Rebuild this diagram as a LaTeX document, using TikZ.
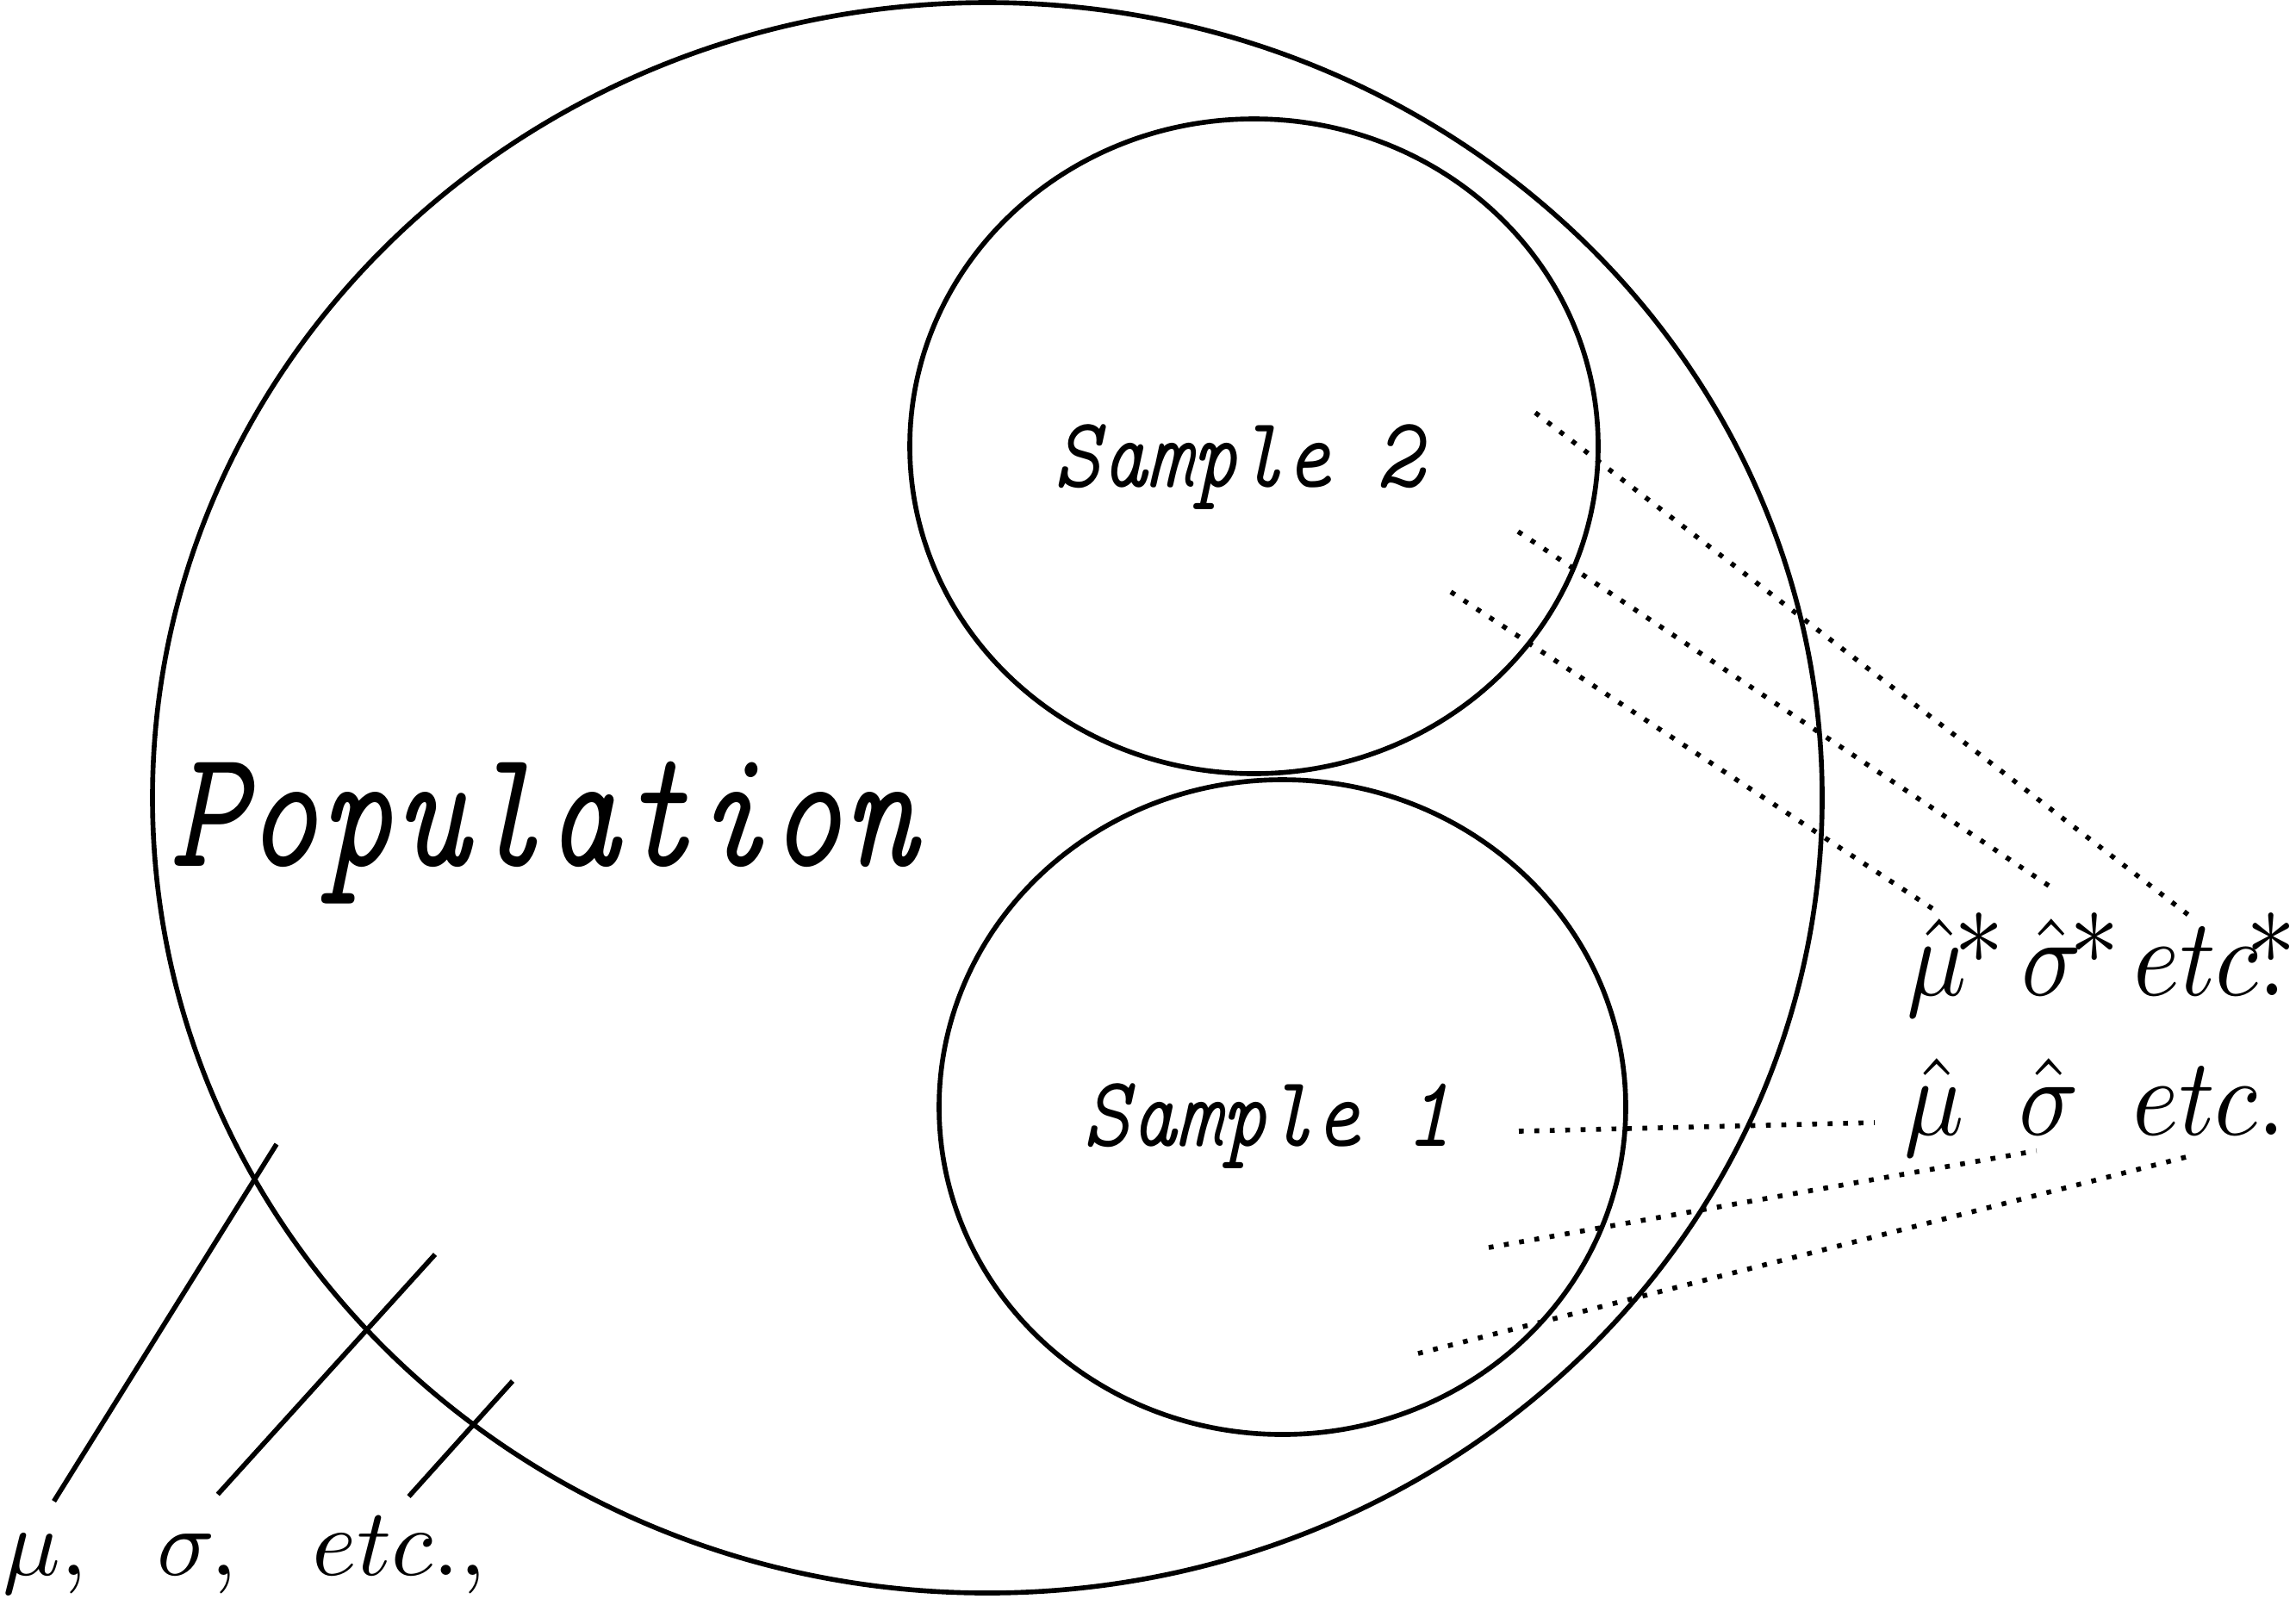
\RequirePackage{fix-cm}
\documentclass[tikz,border=0pt]{standalone}
\usepackage{amsmath}
\usepackage{graphicx}
\usetikzlibrary{shapes.geometric}
\DeclareFontShape{OML}{cmm}{m}{it}{<->cmmi10}{\skewchar\font'177}
\DeclareFontShape{OMS}{cmsy}{m}{n}{<->cmsy10}{\skewchar\font'60}
\DeclareFontShape{OT1}{cmr}{m}{n}{<->cmr10}{}
\DeclareFontShape{OT1}{cmtt}{m}{it}{<->cmitt10}{\hyphenchar\font=-1}
\newcommand{\squeeze}[2]{\scalebox{#1}[1]{#2}}
\newcommand{\ttit}{\fontencoding{OT1}\fontfamily{cmtt}\fontshape{it}\selectfont}
\newcommand{\starmark}{{\fontencoding{OT1}\fontfamily{cmr}\fontshape{n}\selectfont *}}

\begin{document}
\begin{tikzpicture}[
    ring/.style={draw=black, ellipse, line width=1.6pt, inner sep=0pt},
    parline/.style={black, line width=1.6pt},
    estline/.style={black, line width=1.6pt, dash pattern=on 1.6pt off 3.5pt},
    bigtxt/.style={anchor=base west, font=\fontsize{56}{60}\ttit},
    smptxt/.style={anchor=base west, font=\fontsize{33.3}{38}\ttit},
    partxt/.style={anchor=base west, font=\fontsize{31.6}{36}\selectfont},
    esttxt/.style={anchor=base west, font=\fontsize{36.4}{42}\selectfont}]
    \tikzstyle{every node}+=[inner sep=0pt]
    \useasboundingbox (0,0) rectangle (26.65,-18.55);
    \node [ring, minimum width=19.38cm, minimum height=18.46cm] (pop) at (11.46,-9.26) {};
    \node [ring, minimum width=7.99cm, minimum height=7.6cm] (smp2) at (14.555,-5.18) {};
    \node [ring, minimum width=7.97cm, minimum height=7.6cm] (smp1) at (14.885,-12.85) {};
    \node [bigtxt] (poptxt) at (1.97,-10.05) {\squeeze{0.84}{Population}};
    \node [smptxt] (smp2txt) at (12.23,-5.65) {\squeeze{0.87}{Sample 2}};
    \node [smptxt] (smp1txt) at (12.57,-13.30) {\squeeze{0.87}{Sample 1}};
    \node [partxt] (mu) at (0.03,-18.28) {$\mu,$};
    \node [partxt] (sig) at (1.82,-18.28) {$\sigma,$};
    \node [partxt] (etcp) at (3.62,-18.28) {$etc.,$};
    \node [esttxt] (muh) at (22.10,-13.17) {\squeeze{0.9}{$\hat{\mu}$}};
    \node [esttxt] (sigh) at (23.43,-13.17) {\squeeze{0.9}{$\hat{\sigma}$}};
    \node [esttxt] (etch) at (24.75,-13.17) {\squeeze{0.9}{$etc.$}};
    \node [esttxt] (muhs) at (22.13,-11.55) {\squeeze{0.9}{$\hat{\mu}$\kern-.13em\starmark}};
    \node [esttxt] (sighs) at (23.46,-11.55) {\squeeze{0.9}{$\hat{\sigma}$\kern-.12em\starmark}};
    \node [esttxt] (etchs) at (24.76,-11.55) {\squeeze{0.9}{$etc$\rlap{\kern-.12em\starmark}$.$}};
    \coordinate (m1) at (3.21,-13.28);
    \coordinate (s1) at (5.05,-14.56);
    \coordinate (t1) at (5.95,-16.03);
    \coordinate (a1) at (17.82,-4.79);
    \coordinate (a2) at (17.62,-6.17);
    \coordinate (a3) at (16.84,-6.87);
    \coordinate (b1) at (17.63,-13.13);
    \coordinate (b2) at (17.28,-14.48);
    \coordinate (b3) at (16.46,-15.71);
    \draw [parline] ([shift={(0.10,0.37)}]mu.north) -- (m1);
    \draw [parline] ([shift={(0.24,0.45)}]sig.north) -- (s1);
    \draw [parline] ([shift={(0.11,0.22)}]etcp.north) -- (t1);
    \draw [estline] (a1) -- ([shift={(-0.22,-0.06)}]etchs.north);
    \draw [estline] (a2) -- ([shift={(-0.16,0.24)}]sighs.north);
    \draw [estline] (a3) -- ([shift={(-0.21,0)}]muhs.north);
    \draw [estline] (b1) -- ([shift={(-0.34,-0.18)}]muh.west);
    \draw [estline] (b2) -- ([shift={(-0.15,-0.18)}]sigh.south);
    \draw [estline] (b3) -- ([shift={(-0.18,-0.23)}]etch.south);
\end{tikzpicture}
\end{document}
